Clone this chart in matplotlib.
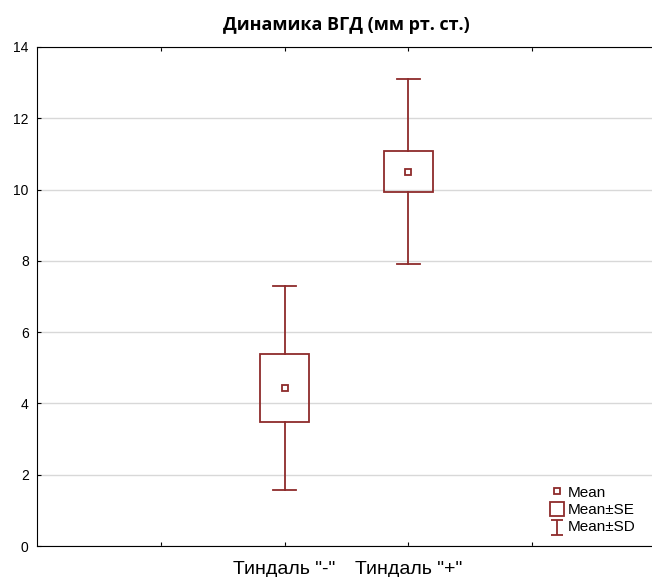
import matplotlib
matplotlib.use("Agg")
import matplotlib.pyplot as plt
from matplotlib.patches import Rectangle
from matplotlib.lines import Line2D
from matplotlib.path import Path

groups = ['Тиндаль "-"', 'Тиндаль "+"']
means = [4.44, 10.5]
se = [0.96, 0.57]
sd = [2.86, 2.6]
yticks = [0, 2, 4, 6, 8, 10, 12, 14]

red = "#8e2b2b"
box_w = 0.4
cap_w = 0.19

plt.rcParams["font.family"] = ["Liberation Sans", "DejaVu Sans"]

fig = plt.figure(figsize=(6.52, 5.77), dpi=100)
ax = fig.add_axes([37 / 652, 31 / 577, 619 / 652, 499 / 577])

xs = [2, 3]
for x, m, s, d in zip(xs, means, se, sd):
    ax.add_patch(Rectangle((x - box_w / 2, m - s), box_w, 2 * s,
                           fill=False, edgecolor=red, lw=1.3, zorder=3))
    ax.plot([x, x], [m + s, m + d], color=red, lw=1.3, zorder=3)
    ax.plot([x, x], [m - s, m - d], color=red, lw=1.3, zorder=3)
    ax.plot([x - cap_w / 2, x + cap_w / 2], [m + d, m + d], color=red, lw=1.3, zorder=3)
    ax.plot([x - cap_w / 2, x + cap_w / 2], [m - d, m - d], color=red, lw=1.3, zorder=3)
    ax.plot([x], [m], marker="s", ms=5, mfc="white", mec=red, mew=1.3, zorder=4)

ax.set_xlim(0, 5)
ax.set_ylim(0, 14)
ax.set_yticks(yticks)
ax.set_xticks([1, 2, 3, 4])
ax.set_xticklabels(["", groups[0], groups[1], ""], fontsize=14)
ax.tick_params(axis="y", direction="in", length=3, labelsize=10, pad=6)
ax.tick_params(axis="x", direction="in", length=3, pad=11, top=True)
ax.yaxis.grid(True, color="#d8d8d8", lw=1)
ax.set_axisbelow(True)
ax.spines["right"].set_visible(False)

ax.set_title("Динамика ВГД (мм рт. ст.)", fontsize=13, fontweight="bold",
             family=["Open Sans", "DejaVu Sans"], x=(346 - 37) / 619, pad=12)

# I-shaped legend marker, shifted a bit downward
ibar = Path([(-0.7, 0.7), (0.7, 0.7), (0, 0.7), (0, -1), (-0.7, -1), (0.7, -1)],
            [Path.MOVETO, Path.LINETO, Path.MOVETO, Path.LINETO, Path.MOVETO, Path.LINETO])
handles = [
    Line2D([], [], ls="none", marker="s", ms=4.5, mfc="white", mec=red, mew=1.3),
    Line2D([], [], ls="none", marker="s", ms=9.5, mfc="white", mec=red, mew=1.3),
    Line2D([], [], ls="none", marker=ibar, ms=12.5, color=red, mew=1.3),
]
ax.legend(handles, ["Mean", "Mean±SE", "Mean±SD"], loc="lower left",
          bbox_to_anchor=((542 - 37) / 619, 4 / 499), frameon=False,
          handlelength=1, handletextpad=0.2, labelspacing=0.22,
          borderpad=0, fontsize=11)

fig.savefig("out.png", dpi=100)
